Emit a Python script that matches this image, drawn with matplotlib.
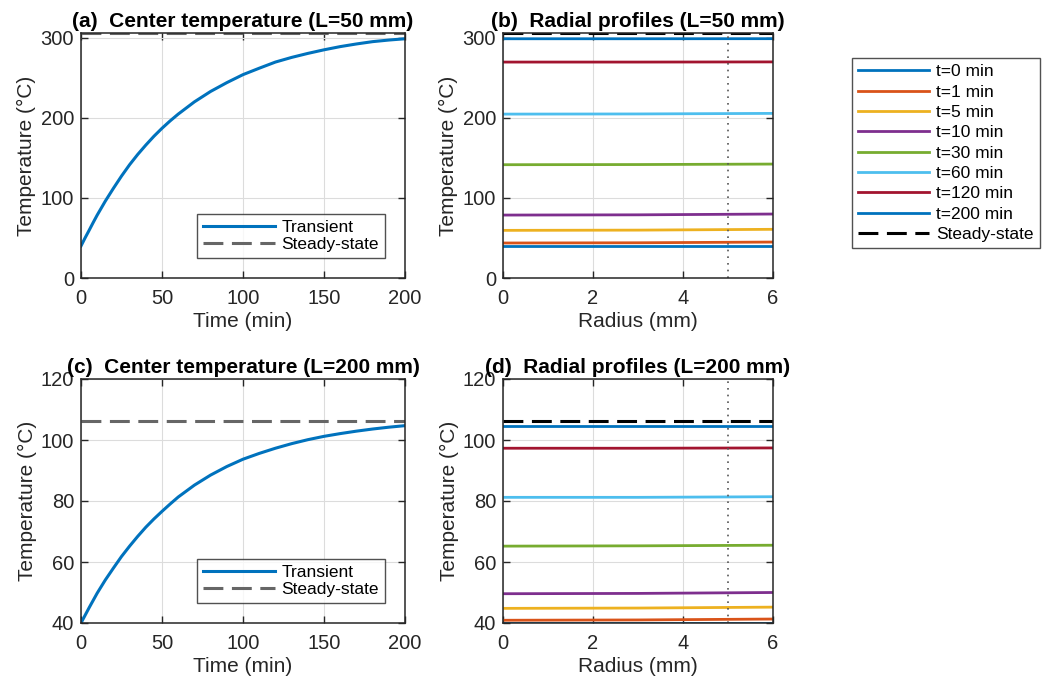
import matplotlib
matplotlib.use('Agg')
from matplotlib import pyplot as plt
import numpy as np

plt.rcParams['font.family'] = ['Liberation Sans', 'DejaVu Sans']

# centre temperature vs time
t_min = [0, 2.5, 5, 7.5, 10, 15, 20, 25, 30, 35, 40, 45, 50, 55, 60, 70, 80, 90, 100,
         110, 120, 130, 140, 150, 160, 170, 180, 190, 200]
Tc_50 = [40, 50, 59.5, 69.2, 78.6, 96, 112, 127.3, 141.5, 154.3, 166, 177, 187, 196.2, 204.7,
         220, 233, 244, 254, 262, 269.7, 275.5, 280.5, 285, 289, 292.3, 295.2, 297.2, 298.8]
Tc_200 = [40, 42.5, 45.0, 47.4, 49.8, 54.1, 58, 61.8, 65.2, 68.4, 71.4, 74.1, 76.6, 79.0, 81.3,
          85.2, 88.5, 91.3, 93.7, 95.6, 97.3, 98.8, 100.1, 101.2, 102.1, 102.9, 103.6, 104.2, 104.7]
Tss_50 = 305.5
Tss_200 = 106.3

# radial profiles at selected times (centre, mid, edge)
radius = [0, 3, 6]
prof_labels = ['t=0 min', 't=1 min', 't=5 min', 't=10 min', 't=30 min', 't=60 min', 't=120 min', 't=200 min']
prof_50 = [[40, 40, 40], [43.7, 44.0, 44.9], [59.5, 59.8, 60.8], [78.6, 78.9, 79.9],
           [141.5, 141.7, 142.3], [204.7, 204.9, 205.6], [269.7, 269.7, 269.9], [298.8, 298.8, 298.9]]
prof_200 = [[40.1, 40.1, 40.1], [40.9, 41.0, 41.3], [44.8, 44.9, 45.2], [49.6, 49.7, 50.0],
            [65.2, 65.3, 65.5], [81.2, 81.2, 81.4], [97.3, 97.3, 97.4], [104.7, 104.7, 104.7]]
r_mark = 5

colors = ['#0072BD', '#D95319', '#EDB120', '#7E2F8E', '#77AC30', '#4DBEEE', '#A2142F', '#0072BD']
axc = '#262626'
dash = (0, (6.5, 2.8))

W, H = 1048, 684
fig = plt.figure(figsize=(W/100, H/100), dpi=100)

def box(l, t, r, b):
    return [l/W, 1-b/H, (r-l)/W, (b-t)/H]

def style(ax):
    ax.grid(True, color='#dcdcdc', linewidth=0.8)
    ax.set_axisbelow(True)
    for s in ax.spines.values():
        s.set_color(axc)
        s.set_linewidth(1.1)
    ax.tick_params(direction='in', top=True, right=True, labelsize=14.5, colors=axc,
                   length=5, width=1.0, pad=5)
    ax.tick_params(axis='x', pad=8)

ax_a = fig.add_axes(box(81, 33, 405, 278))
ax_b = fig.add_axes(box(503, 33, 773, 278))
ax_c = fig.add_axes(box(81, 379, 405, 623))
ax_d = fig.add_axes(box(503, 379, 773, 623))

leg_kw = dict(fontsize=12.5, handlelength=4.1, frameon=True, fancybox=False, edgecolor=axc,
              borderpad=0.35, handletextpad=0.4)

# centre temperature panels
for ax, Tc, Tss, yl, yt, ttl in [
        (ax_a, Tc_50, Tss_50, (0, 306), [0, 100, 200, 300], '(a)  Center temperature (L=50 mm)'),
        (ax_c, Tc_200, Tss_200, (40, 120), [40, 60, 80, 100, 120], '(c)  Center temperature (L=200 mm)')]:
    ax.plot(t_min, Tc, color='#0072BD', lw=2.2, label='Transient')
    ax.axhline(Tss, color='#666666', lw=2.2, ls=dash, label='Steady-state')
    ax.set_xlim(0, 200)
    ax.set_ylim(*yl)
    ax.set_xticks([0, 50, 100, 150, 200])
    ax.set_yticks(yt)
    style(ax)
    ax.set_xlabel('Time (min)', fontsize=15, color=axc, labelpad=3)
    ax.set_ylabel('Temperature (°C)', fontsize=15, color=axc, labelpad=3)
    ax.set_title(ttl, fontsize=15, fontweight='bold', pad=4)
    leg = ax.legend(loc='lower right', borderaxespad=1.15, labelspacing=0.1, **leg_kw)
    leg.get_frame().set_linewidth(1.0)

# radial profile panels
for ax, prof, Tss, yl, yt, ttl in [
        (ax_b, prof_50, Tss_50, (0, 306), [0, 100, 200, 300], '(b)  Radial profiles (L=50 mm)'),
        (ax_d, prof_200, Tss_200, (40, 120), [40, 60, 80, 100, 120], '(d)  Radial profiles (L=200 mm)')]:
    for vals, c, lab in zip(prof, colors, prof_labels):
        ax.plot(radius, vals, color=c, lw=2.0, label=lab)
    ax.axhline(Tss, color='black', lw=2.2, ls=dash, label='Steady-state')
    ax.axvline(r_mark, color='#555555', lw=1.2, ls=(0, (1, 3)))
    ax.set_xlim(0, 6)
    ax.set_ylim(*yl)
    ax.set_xticks([0, 2, 4, 6])
    ax.set_yticks(yt)
    style(ax)
    ax.set_xlabel('Radius (mm)', fontsize=15, color=axc, labelpad=3)
    ax.set_ylabel('Temperature (°C)', fontsize=15, color=axc, labelpad=3)
    ax.set_title(ttl, fontsize=15, fontweight='bold', pad=4)

h, l = ax_b.get_legend_handles_labels()
leg = fig.legend(h, l, loc='upper left', bbox_to_anchor=(852/W, 1-58/H),
                 borderaxespad=0, labelspacing=0.3, **leg_kw)
leg.get_frame().set_linewidth(1.0)

fig.savefig('out.png', dpi=100, facecolor='white')
